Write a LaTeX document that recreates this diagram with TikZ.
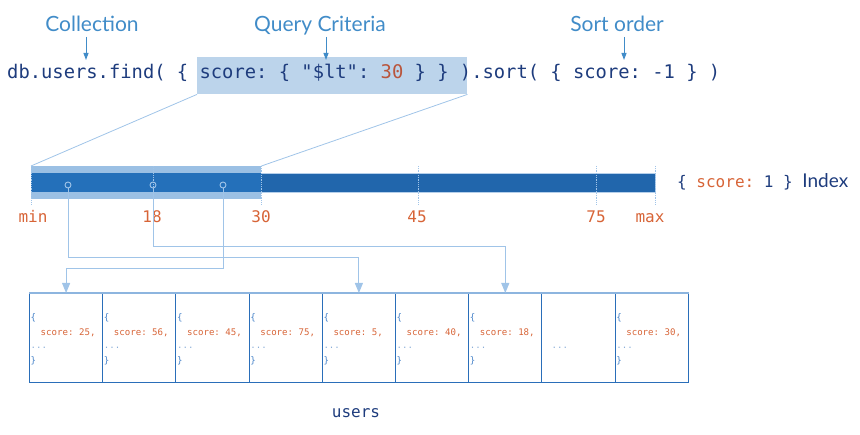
\documentclass[tikz,border=0pt]{standalone}
\usepackage{fontspec}
\setmainfont{Lato}
\newfontfamily\codefont{DejaVu Sans Mono}
\usetikzlibrary{arrows.meta,calc}
\frenchspacing
\definecolor{labelblue}{HTML}{418CC8}
\definecolor{navy}{HTML}{1E3C7D}
\definecolor{numred}{HTML}{B9553C}
\definecolor{tickorange}{HTML}{D76437}
\definecolor{hilite}{HTML}{BCD4EB}
\definecolor{barblue}{HTML}{2166AC}
\definecolor{barleft}{HTML}{2470BA}
\definecolor{barhl}{HTML}{9BC0E4}
\definecolor{barline}{HTML}{B5CFEA}
\definecolor{linkblue}{HTML}{A0C4E8}
\definecolor{boxblue}{HTML}{2A6EB9}
\definecolor{boxtop}{HTML}{8DB5DF}
\definecolor{docblue}{HTML}{4682C8}
\definecolor{docdots}{HTML}{8AAED8}
\begin{document}
\begin{tikzpicture}[x=1pt,y=-1pt,
  lab/.style={text=labelblue, font=\fontsize{21}{24}\selectfont, inner sep=0},
  code/.style={text=navy, font=\codefont\fontsize{18.8}{22}\selectfont, inner sep=0},
  callout/.style={draw=labelblue, line width=1pt, -{Triangle[width=5pt,length=7pt]}},
  trap/.style={draw=linkblue, line width=0.8pt},
  tickline/.style={draw=linkblue, line width=0.8pt, densely dotted},
  ticklab/.style={text=tickorange, font=\codefont\fontsize{16}{19}\selectfont, inner sep=0},
  idx/.style={text=navy, font=\codefont\fontsize{16}{19}\selectfont, inner sep=0},
  dot/.style={circle, draw=linkblue, line width=0.9pt, inner sep=0, minimum size=6pt},
  link/.style={draw=linkblue, line width=1pt, -{Triangle[width=8pt,length=10pt]}},
  docbox/.style={draw=boxblue, line width=1pt, minimum width=73.2pt, minimum height=89pt, inner sep=0},
  doctxt/.style={text=docblue, font=\codefont\fontsize{9.1}{11}\selectfont, inner sep=0},
  docnum/.style={text=tickorange, font=\codefont\fontsize{9.1}{11}\selectfont, inner sep=0},
  docdot/.style={text=docdots, font=\codefont\fontsize{9.1}{11}\selectfont, inner sep=0},
  userslab/.style={text=navy, font=\codefont\fontsize{16}{19}\selectfont, inner sep=0}
]
\useasboundingbox (0,0) rectangle (860,435);

% labels
\node[lab, anchor=base] (coll) at (92,32) {Collection};
\node[lab, anchor=base] (qc) at (320,32) {Query Criteria};
\node[lab, anchor=base] (so) at (617,32) {Sort order};
\coordinate (a1s) at (86,37);  \coordinate (a1e) at (86,60);
\coordinate (a2s) at (326,37); \coordinate (a2e) at (326,60);
\coordinate (a3s) at (624,37); \coordinate (a3e) at (624,60);

% code
\node[fill=hilite, minimum width=270pt, minimum height=37pt, anchor=north west, inner sep=0] (hl) at (197,57) {};
\node[code, anchor=base west] (code) at (7,79) {db.users.find( \{ score: \{ "\$lt": \textcolor{numred}{30} \} \} ).sort( \{ score: -1 \} )};
\draw[callout] (a1s) -- (a1e);
\draw[callout] (a2s) -- (a2e);
\draw[callout] (a3s) -- (a3e);

% index bar
\node[draw=barline, line width=0.8pt, fill=barblue, minimum width=624pt, minimum height=19pt, anchor=north west, inner sep=0] (bar) at (31,173) {};
\node[fill=barhl, minimum width=230pt, minimum height=33pt, anchor=north west, inner sep=0] (hlbar) at (31,166) {};
\node[fill=barleft, minimum width=230pt, minimum height=19pt, anchor=north west, inner sep=0] (barl) at (31,173) {};
\draw[trap] (hl.south west) -- (hlbar.north west);
\draw[trap] (hl.south east) -- (hlbar.north east);

\foreach \x/\n in {31/tmin,153/t18,261/t30,418/t45,596/t75,655/tmax} {
  \coordinate (\n a) at (\x,166);
  \coordinate (\n b) at (\x,205);
  \draw[tickline] (\n a) -- (\n b);
}
\node[ticklab, anchor=base] (lmin) at (33,223) {min};
\node[ticklab, anchor=base] (l18) at (152,223) {18};
\node[ticklab, anchor=base] (l30) at (261,223) {30};
\node[ticklab, anchor=base] (l45) at (417,223) {45};
\node[ticklab, anchor=base] (l75) at (596,223) {75};
\node[ticklab, anchor=base] (lmax) at (650,223) {max};

\node[idx, anchor=base west] (idxl) at (677,188) {\{ \textcolor{tickorange}{score:} 1 \} {\fontspec{Lato}\fontsize{19}{21}\selectfont Index}};

\node[dot] (c5) at (68,185) {};
\node[dot] (c18) at (153,185) {};
\node[dot] (c25) at (223,185) {};

% documents
\foreach \i in {1,...,9} {
  \node[docbox, anchor=north west] (b\i) at ({29+73.2*(\i-1)},293) {};
}
\draw[draw=boxtop, line width=2pt] (b1.north west) -- (b9.north east);

\foreach \i/\s in {1/25,2/56,3/45,4/75,5/5,6/40,7/18,9/30} {
  \node[doctxt, anchor=base west] (o\i) at ($(b\i.north west)+(1.5,28)$) {\{};
  \node[docnum, anchor=base west] (s\i) at ($(b\i.north west)+(11.5,43)$) {score: \s,};
  \node[docdot, anchor=base west] (e\i) at ($(b\i.north west)+(1.5,56)$) {...};
  \node[doctxt, anchor=base west] (z\i) at ($(b\i.north west)+(1.5,71)$) {\}};
}
\node[docdot, anchor=base west] (e8) at ($(b8.north west)+(10,56)$) {...};

% connectors
\coordinate (k5) at (68,258);
\coordinate (k25) at (223,269);
\coordinate (k18) at (153,247);
\draw[link] (c18.south) -- (k18) -| (b7.north);
\draw[link] (c5.south) -- (k5) -| (b5.north);
\draw[link] (c25.south) -- (k25) -| (b1.north);

\node[userslab, anchor=base] (users) at (356,418) {users};
\end{tikzpicture}
\end{document}
